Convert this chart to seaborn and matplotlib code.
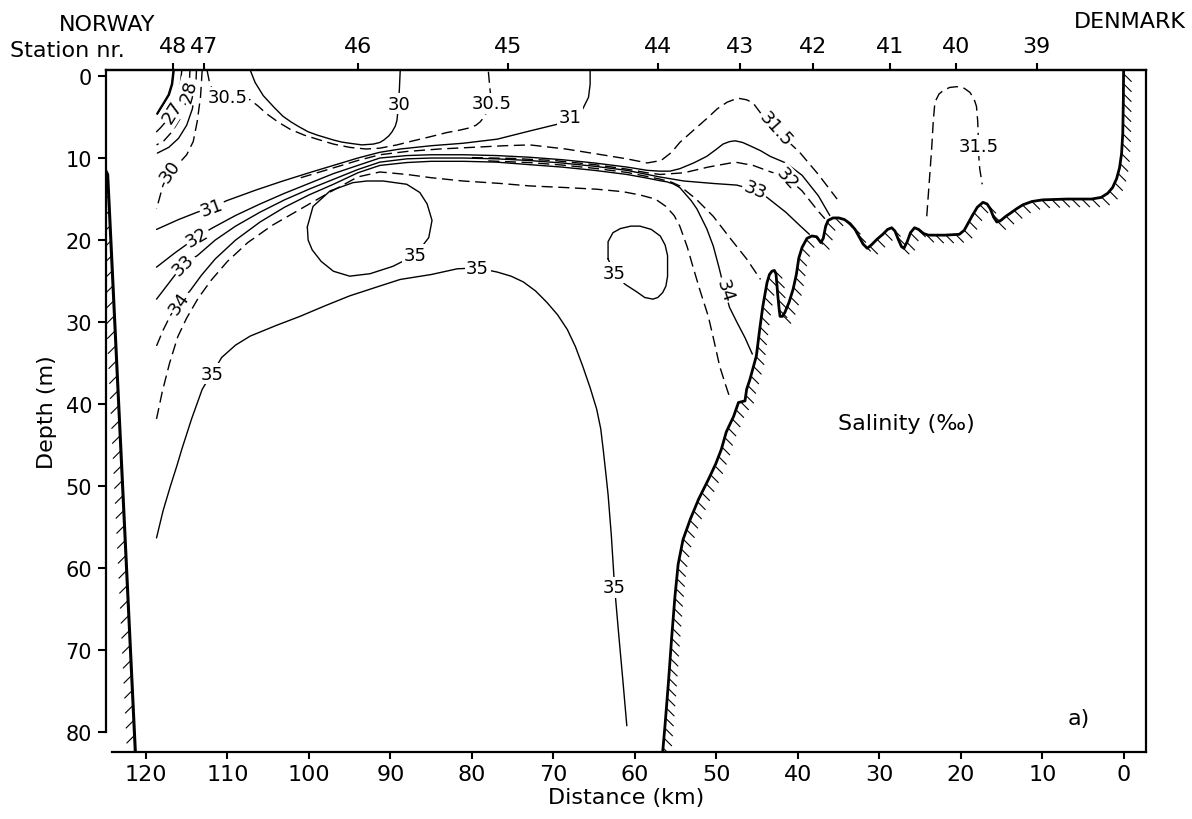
import numpy as np
import matplotlib
matplotlib.use("Agg")
import matplotlib.pyplot as plt
from matplotlib.collections import LineCollection
import seaborn as sns

# ---------------------------------------------------------------
# Salinity section Norway -> Denmark.
# Distance from the Danish coast (km), depth (m).
# ---------------------------------------------------------------

# stations along the section
station_names = ["48", "47", "46", "45", "44", "43", "42", "41", "40", "39"]
station_km = [116.7, 112.9, 94.0, 75.6, 57.2, 47.1, 38.2, 28.7, 20.6, 10.7]

x_ticks = [120, 110, 100, 90, 80, 70, 60, 50, 40, 30, 20, 10, 0]
y_ticks = [0, 10, 20, 30, 40, 50, 60, 70, 80]

# near-coast fresh water wedge at station 48
s26_km = [116.6, 116.8, 117.2, 117.8, 118.3, 118.6]
s26_depth = [-0.7, 1.0, 2.3, 3.3, 4.1, 4.6]
s27_km = [115.6, 115.8, 116.2, 116.8, 117.5, 118.2, 118.7]
s27_depth = [-0.7, 1.2, 2.8, 4.4, 5.5, 6.3, 6.8]
s28_km = [114.6, 114.7, 115.1, 115.8, 116.8, 117.8, 118.7]
s28_depth = [-0.7, 1.2, 3.2, 5.2, 6.8, 7.9, 8.4]
s29_km = [113.8, 113.9, 114.3, 115.0, 116.0, 117.2, 118.6]
s29_depth = [-0.7, 1.5, 4.0, 6.0, 7.6, 8.7, 9.4]
s30w_km = [113.1, 113.3, 113.7, 114.2, 115.0, 116.0, 117.0, 117.9, 118.7]
s30w_depth = [-0.7, 2.5, 5.5, 8.0, 9.6, 10.7, 11.6, 13.3, 16.2]

# surface patch below 30
s30_km = [107.2, 106.6, 105.6, 104.3, 103.2, 102.2, 101.2, 100.1, 99.0, 98.0,
          97.0, 96.0, 95.0, 93.5, 92.1, 91.3, 90.8, 90.2, 89.8, 89.4,
          89.2, 89.0, 88.9, 88.8]
s30_depth = [-0.7, 0.8, 2.4, 3.8, 4.9, 5.6, 6.2, 6.8, 7.2, 7.5,
             7.8, 8.05, 8.2, 8.4, 8.3, 8.1, 7.8, 7.3, 6.8, 6.1,
             5.4, 3.4, 1.5, -0.7]

s305_km = [112.5, 112.2, 111.7, 110.0, 108.2, 107.2, 106.2, 105.2, 103.8, 102.3,
           100.6, 99.0, 97.0, 95.0, 93.0, 91.3, 89.2, 87.2, 85.1, 83.1,
           81.5, 80.2, 79.5, 79.0, 78.5, 78.2, 77.6, 77.8, 78.0]
s305_depth = [-0.7, 0.8, 2.0, 2.6, 2.7, 2.9, 3.7, 4.6, 5.6, 6.5,
              7.2, 7.7, 8.3, 8.7, 8.9, 8.8, 8.4, 7.9, 7.4, 6.9,
              6.6, 6.3, 6.0, 5.6, 5.0, 4.4, 3.2, 1.5, -0.7]

s31_km = [118.7, 116.0, 113.7, 111.9, 110.1, 106.5, 103.2, 100.0, 97.0, 94.0,
          91.3, 88.8, 85.0, 81.1, 76.9, 72.9, 69.6, 68.0, 66.4, 65.7, 65.5, 65.5]
s31_depth = [18.7, 17.5, 16.6, 16.0, 15.2, 13.9, 12.8, 11.8, 10.9, 10.0,
             9.3, 8.9, 8.5, 8.2, 7.7, 6.7, 5.9, 5.0, 4.0, 2.6, 1.0, -0.7]

s315_km = [101.0, 97.0, 94.0, 91.3, 88.0, 84.0, 80.0, 76.0, 72.9, 68.5,
           64.7, 61.0, 58.5, 56.8, 55.5, 54.5, 52.8, 51.2, 49.9, 48.7,
           47.4, 46.3, 45.5, 44.3, 42.7, 41.3, 39.8, 37.5, 35.2]
s315_depth = [12.4, 11.2, 10.3, 9.6, 9.2, 8.9, 8.7, 8.5, 8.4, 8.9,
              9.5, 10.1, 10.6, 10.3, 9.3, 8.1, 6.6, 5.2, 4.0, 3.2,
              2.7, 2.9, 3.3, 4.9, 6.4, 7.9, 9.3, 12.0, 15.0]

s32_km = [118.7, 116.5, 113.7, 111.8, 109.0, 106.0, 103.0, 100.0, 97.0, 94.0,
          91.3, 88.0, 85.0, 81.0, 77.0, 73.0, 69.0, 65.0, 61.0, 58.5,
          57.0, 55.7, 54.5, 52.8, 51.2, 50.1, 49.2, 48.4, 47.7, 46.8,
          45.9, 44.6, 43.4, 41.5, 39.5, 37.5, 36.1]
s32_depth = [23.3, 21.6, 19.6, 18.5, 17.0, 15.6, 14.3, 13.1, 11.9, 10.9,
             10.0, 9.7, 9.6, 9.6, 9.7, 9.9, 10.2, 10.6, 11.1, 11.5,
             11.6, 11.6, 11.3, 10.6, 9.8, 9.0, 8.3, 8.0, 7.9, 8.1,
             8.5, 9.1, 9.8, 10.6, 12.1, 14.6, 17.0]

s325_km = [80.0, 75.0, 70.0, 65.0, 61.0, 58.5, 56.9, 54.0, 51.0, 47.7,
           45.5, 43.6, 41.3, 39.5, 37.5, 36.7]
s325_depth = [9.95, 10.05, 10.3, 10.8, 11.35, 11.8, 12.0, 11.8, 11.1, 10.5,
              10.9, 11.6, 12.4, 14.0, 16.5, 17.4]

s33_km = [118.7, 117.0, 115.4, 113.7, 111.5, 109.0, 106.0, 103.0, 100.0, 97.0,
          94.0, 91.3, 88.0, 85.0, 81.0, 77.0, 73.0, 69.0, 65.0, 61.0,
          58.5, 57.0, 54.0, 50.4, 47.5, 45.3, 43.8, 41.5, 39.8, 38.6]
s33_depth = [27.2, 25.0, 22.9, 21.9, 20.0, 18.3, 16.6, 15.1, 13.8, 12.6,
             11.4, 10.5, 10.1, 10.0, 10.0, 10.1, 10.3, 10.6, 11.0, 11.5,
             12.0, 12.3, 12.8, 13.1, 13.3, 13.9, 14.8, 16.6, 18.2, 19.3]

s335_km = [78.0, 73.0, 69.0, 65.0, 61.0, 58.5, 57.0, 55.5, 54.5, 52.5,
           50.4, 48.3, 46.3, 44.6]
s335_depth = [10.35, 10.55, 10.85, 11.25, 11.75, 12.25, 12.55, 12.95, 13.4, 15.0,
              17.1, 19.8, 22.3, 24.8]

s34w_km = [118.7, 117.9, 117.0, 115.9]
s34w_depth = [32.9, 31.0, 29.2, 27.6]
s34_km = [115.9, 114.6, 113.2, 111.5, 109.0, 106.0, 103.0, 100.0, 97.0, 94.0,
          91.3, 88.0, 85.0, 81.0, 77.0, 73.0, 69.0, 65.0, 61.0, 58.5,
          57.0, 56.1, 55.3, 54.5, 53.8, 53.1, 52.4, 51.2, 50.4, 49.7,
          49.0, 48.4, 47.5, 46.5, 45.6]
s34_depth = [27.6, 26.2, 24.3, 22.3, 20.0, 17.8, 16.0, 14.5, 13.2, 11.8,
             10.9, 10.55, 10.4, 10.4, 10.5, 10.8, 11.1, 11.5, 12.0, 12.45,
             12.75, 12.9, 13.15, 13.6, 14.4, 15.2, 16.2, 18.6, 20.7, 23.3,
             26.1, 28.2, 30.0, 31.9, 33.9]

s345_km = [118.7, 118.0, 117.1, 116.1, 115.0, 113.6, 112.0, 110.0, 107.5, 104.5,
           101.0, 97.5, 94.0, 91.3, 88.0, 85.0, 81.1, 76.5, 72.9, 68.5,
           64.7, 61.5, 59.4, 57.5, 56.2, 55.2, 54.5, 53.6, 52.9, 52.0,
           51.0, 50.3, 49.6, 48.9, 48.3]
s345_depth = [41.8, 38.5, 35.0, 31.8, 29.5, 27.1, 24.9, 22.6, 20.3, 18.2,
              16.2, 14.2, 12.3, 11.7, 12.0, 12.4, 12.8, 13.1, 13.4, 13.6,
              13.8, 14.1, 14.5, 15.0, 15.9, 17.0, 18.3, 20.8, 23.2, 26.2,
              29.3, 32.3, 35.4, 37.6, 39.4]

# 35 isohalines
s35_loop_km = [100.2, 99.5, 97.4, 94.6, 92.9, 90.9, 88.0, 86.4, 85.5, 84.9,
               85.3, 86.3, 87.5, 89.7, 92.5, 95.0, 97.0, 98.5, 99.6, 100.1, 100.2]
s35_loop_depth = [18.4, 15.9, 14.0, 13.0, 12.8, 12.8, 13.2, 14.2, 15.6, 17.6,
                  19.7, 21.0, 22.1, 23.2, 24.1, 24.4, 23.8, 22.6, 21.2, 20.0, 18.4]

s35_core_km = [63.3, 63.3, 62.7, 61.8, 60.5, 59.4, 58.0, 56.9, 56.3, 56.0,
               56.0, 56.2, 56.6, 57.2, 57.8, 58.8, 59.8, 61.2, 62.5, 63.3]
s35_core_depth = [22.3, 20.2, 19.1, 18.6, 18.3, 18.3, 18.7, 19.5, 20.6, 21.9,
                  24.4, 25.6, 26.4, 27.0, 27.2, 27.0, 26.3, 25.4, 24.1, 22.3]

s35_km = [118.7, 117.9, 117.0, 116.2, 115.6, 114.4, 113.1, 112.5, 111.9, 110.7,
          109.0, 107.2, 104.0, 101.1, 98.0, 95.0, 91.3, 88.8, 85.0, 81.8,
          79.3, 76.9, 75.2, 73.7, 72.2, 70.8, 69.5, 68.3, 67.3, 66.4,
          65.5, 64.7, 64.2, 63.9, 63.6, 63.3, 62.9, 62.5, 62.0, 61.5, 61.0]
s35_depth = [56.3, 53.0, 50.0, 47.5, 45.5, 41.8, 38.2, 37.2, 36.3, 34.3,
             32.8, 31.7, 30.4, 29.3, 28.0, 26.8, 25.6, 24.8, 24.2, 23.5,
             23.4, 23.9, 24.4, 25.1, 26.2, 27.6, 29.1, 30.9, 33.0, 35.4,
             38.0, 40.6, 43.0, 45.5, 48.2, 51.0, 56.0, 62.3, 68.0, 73.5, 79.2]

# Kattegat side patch
s315d_km = [24.2, 23.9, 23.6, 23.4, 23.2, 22.7, 22.2, 21.4, 20.5, 19.6,
            18.9, 18.4, 18.1, 17.95, 17.9, 17.8, 17.7, 17.4]
s315d_depth = [17.1, 13.0, 8.9, 5.5, 3.2, 2.2, 1.8, 1.4, 1.3, 1.5,
               2.0, 2.8, 3.7, 5.5, 6.8, 10.0, 11.3, 13.2]

# inline contour labels: text, km, depth, rotation
label_text = ["27", "28", "30", "30.5", "30", "30.5", "31", "31", "32", "33",
              "34", "31.5", "32", "33", "34", "35", "35", "35", "35", "35", "31.5"]
label_km = [116.8, 114.8, 117.0, 110.0, 89.0, 77.6, 111.9, 68.0, 113.7, 115.4,
            115.9, 42.7, 41.3, 45.3, 49.0, 111.9, 79.3, 87.0, 62.6, 62.5, 17.8]
label_depth = [4.4, 1.8, 11.6, 2.6, 3.4, 3.3, 16.0, 5.0, 19.6, 22.9,
               27.6, 6.4, 12.4, 13.9, 26.1, 36.3, 23.4, 21.8, 24.0, 62.3, 8.5]
label_rot = [58, 75, 55, 0, 0, 0, 20, 0, 30, 45,
             55, -48, -48, -22, -72, 0, 0, 0, 0, 0, 0]

# bottom topography
norway_km = [125.0, 124.7, 124.5, 121.3]
norway_depth = [11.4, 12.0, 16.0, 82.4]

denmark_km = [56.6, 56.3, 55.9, 55.5, 55.1, 54.7, 54.1, 53.2, 52.2, 51.0,
              50.1, 49.4, 48.8, 47.9, 47.3, 46.5, 46.3, 45.9, 45.1, 44.7,
              44.3, 43.8, 43.5, 43.2, 42.9, 42.7, 42.6, 42.5, 42.3, 42.2,
              41.9, 41.6, 41.1, 40.6, 40.2, 39.9, 39.5, 38.9, 38.3, 37.7,
              37.2, 36.9, 36.6, 36.3, 35.7, 35.0, 34.3, 33.6, 33.0, 32.5,
              32.0, 31.5, 31.0, 30.3, 29.6, 29.0, 28.5, 28.1, 27.7, 27.3,
              27.0, 26.6, 26.2, 25.7, 25.2, 24.6, 24.0, 22.0, 20.2, 19.6,
              19.1, 18.6, 18.0, 17.3, 16.8, 16.4, 16.0, 15.6, 15.1, 14.5,
              13.9, 13.2, 12.4, 11.3, 10.0, 7.0, 4.0, 2.8, 2.0, 1.4,
              0.9, 0.55, 0.3, 0.15, 0.08, 0.05]
denmark_depth = [82.4, 79.0, 74.0, 68.5, 63.5, 59.5, 56.5, 54.0, 51.6, 49.2,
                 47.3, 45.5, 43.4, 41.5, 39.8, 39.6, 38.2, 37.0, 34.1, 30.9,
                 28.0, 25.2, 24.2, 23.8, 23.7, 24.1, 25.2, 26.5, 28.5, 29.3,
                 29.3, 28.8, 27.6, 26.0, 24.2, 22.2, 20.9, 19.8, 19.5, 19.6,
                 20.3, 19.8, 18.3, 17.6, 17.3, 17.3, 17.5, 18.0, 18.7, 19.6,
                 20.5, 21.0, 20.6, 19.9, 19.3, 18.7, 18.5, 18.9, 19.9, 20.8,
                 21.0, 20.2, 19.1, 18.5, 18.7, 19.2, 19.4, 19.4, 19.3, 18.8,
                 17.9, 17.0, 16.0, 15.4, 15.6, 16.2, 17.2, 17.8, 17.6, 17.1,
                 16.7, 16.2, 15.7, 15.3, 15.1, 15.0, 15.0, 14.8, 14.3, 13.6,
                 12.5, 11.2, 9.5, 7.0, 3.0, -0.7]

SOLID = "-"
DASHED = (0, (8, 4))

isohalines = [
    (s26_km, s26_depth, SOLID, 1.8),
    (s27_km, s27_depth, SOLID, 1.0),
    (s28_km, s28_depth, DASHED, 1.0),
    (s29_km, s29_depth, SOLID, 1.0),
    (s30w_km, s30w_depth, DASHED, 1.0),
    (s30_km, s30_depth, SOLID, 1.0),
    (s305_km, s305_depth, DASHED, 1.0),
    (s31_km, s31_depth, SOLID, 1.0),
    (s315_km, s315_depth, DASHED, 1.0),
    (s32_km, s32_depth, SOLID, 1.0),
    (s325_km, s325_depth, DASHED, 1.0),
    (s33_km, s33_depth, SOLID, 1.0),
    (s335_km, s335_depth, DASHED, 1.0),
    (s34w_km, s34w_depth, DASHED, 1.0),
    (s34_km, s34_depth, SOLID, 1.0),
    (s345_km, s345_depth, DASHED, 1.0),
    (s35_loop_km, s35_loop_depth, SOLID, 1.0),
    (s35_core_km, s35_core_depth, SOLID, 1.0),
    (s35_km, s35_depth, SOLID, 1.0),
    (s315d_km, s315d_depth, DASHED, 1.0),
]

# ---------------------------------------------------------------
sns.set_theme(style="ticks")
plt.rcParams["font.family"] = ["DejaVu Sans"]
plt.rcParams["axes.linewidth"] = 1.6
plt.rcParams["axes.edgecolor"] = "black"
plt.rcParams["axes.labelcolor"] = "black"
plt.rcParams["text.color"] = "black"
plt.rcParams["xtick.color"] = "black"
plt.rcParams["ytick.color"] = "black"
plt.rcParams["xtick.labelcolor"] = "black"
plt.rcParams["ytick.labelcolor"] = "black"

W, H = 1192, 820
fig = plt.figure(figsize=(W / 100, H / 100), dpi=100)
left_px, right_px, top_px, bottom_px = 106, 1146, 71, 753
ax = fig.add_axes([left_px / W, 1 - bottom_px / H,
                   (right_px - left_px) / W, (bottom_px - top_px) / H])

for km, depth, ls, lw in isohalines:
    sns.lineplot(x=km, y=depth, sort=False, estimator=None, color="black",
                 linewidth=lw, linestyle=ls, ax=ax, legend=False, zorder=2)

sns.lineplot(x=norway_km, y=norway_depth, sort=False, estimator=None,
             color="black", linewidth=2.2, ax=ax, legend=False, zorder=3)
sns.lineplot(x=denmark_km, y=denmark_depth, sort=False, estimator=None,
             color="black", linewidth=2.0, ax=ax, legend=False, zorder=3)

ax.set_xlim(124.9, -2.7)
ax.set_ylim(82.4, -0.73)

# contour value labels interrupting their lines
for t, k, d, r in zip(label_text, label_km, label_depth, label_rot):
    ax.text(k, d, t, rotation=r, rotation_mode="anchor", ha="center", va="center",
            fontsize=13, zorder=4,
            bbox=dict(boxstyle="square,pad=0.08", fc="white", ec="none"))


def hatch_along(km, depth, spacing, dx, dy, offset=0.0):
    """Short strokes on the land side of a bottom profile (pixel offsets)."""
    pts = ax.transData.transform(np.column_stack([km, depth]))
    seg = np.hypot(*np.diff(pts, axis=0).T)
    s = np.concatenate([[0.0], np.cumsum(seg)])
    t = np.arange(offset, s[-1], spacing)
    x0 = np.interp(t, s, pts[:, 0])
    y0 = np.interp(t, s, pts[:, 1])
    inv = ax.transData.inverted()
    a = inv.transform(np.column_stack([x0, y0]))
    b = inv.transform(np.column_stack([x0 + dx, y0 + dy]))
    ax.add_collection(LineCollection(np.stack([a, b], axis=1), colors="black",
                                     linewidths=0.8, zorder=3))


hatch_along(norway_km, norway_depth, 15, -8, -8, offset=12)
hatch_along(denmark_km, denmark_depth, 10, 8, -8, offset=4)

# axes, ticks, spines
ax.set_xticks(x_ticks)
ax.set_xticklabels([str(v) for v in x_ticks])
ax.set_yticks(y_ticks)
ax.set_yticklabels([str(v) for v in y_ticks])
ax.tick_params(axis="x", which="both", direction="out", length=5, width=1.5,
               labelsize=16, pad=4, top=False)
ax.tick_params(axis="y", which="both", direction="out", length=6, width=1.5,
               labelsize=15, pad=4, right=False)
ax.spines["left"].set_bounds(80.0, -0.73)
ax.spines["bottom"].set_bounds(124.2, -2.7)
for sp in ax.spines.values():
    sp.set_linewidth(1.6)
    sp.set_color("black")

ax.set_xlabel("Distance (km)", fontsize=16, color="black")
ax.xaxis.set_label_coords(0.5, -(788 - bottom_px) / (bottom_px - top_px))
ax.set_ylabel("Depth (m)", fontsize=16, color="black")
ax.yaxis.set_label_coords(-(left_px - 57) / (right_px - left_px), 0.5)

sec = ax.secondary_xaxis("top")
sec.set_xticks(station_km, labels=station_names)
sec.tick_params(axis="x", direction="out", length=5, width=1.5, labelsize=16, pad=5,
                colors="black")
sec.spines["top"].set_linewidth(1.6)

fig.text(107 / W, 1 - 25 / H, "NORWAY", ha="center", va="center", fontsize=16)
fig.text(10 / W, 1 - 51 / H, "Station nr.", ha="left", va="center", fontsize=16)
fig.text(1130 / W, 1 - 22 / H, "DENMARK", ha="center", va="center", fontsize=16)

ax.text(35.1, 42.3, "Salinity (\u2030)", ha="left", va="center", fontsize=16)
ax.text(5.5, 78.3, "a)", ha="center", va="center", fontsize=16)

fig.savefig("out.png", dpi=100)
